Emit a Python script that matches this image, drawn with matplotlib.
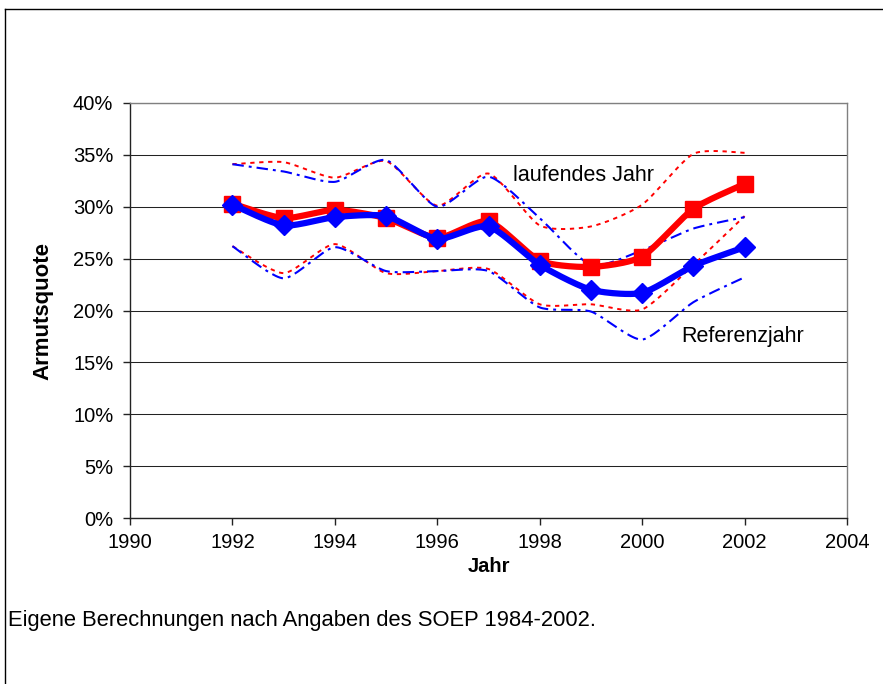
import numpy as np
import matplotlib
matplotlib.use("Agg")
import matplotlib.pyplot as plt
from matplotlib.lines import Line2D
from matplotlib.ticker import FuncFormatter

plt.rcParams['font.family'] = ['Liberation Sans', 'DejaVu Sans']

# ---- data (values in percent) ----
years = [1992, 1993, 1994, 1995, 1996, 1997, 1998, 1999, 2000, 2001, 2002]
laufend = [30.3, 28.9, 29.7, 28.9, 27.0, 28.6, 24.8, 24.2, 25.2, 29.8, 32.2]
laufend_upper = [34.1, 34.3, 32.8, 34.4, 30.1, 33.2, 28.2, 28.1, 30.2, 35.1, 35.2]
laufend_lower = [26.2, 23.6, 26.4, 23.6, 23.8, 24.0, 20.6, 20.6, 20.1, 24.4, 29.1]
referenz = [30.2, 28.2, 29.0, 29.1, 26.9, 28.1, 24.4, 22.0, 21.7, 24.3, 26.1]
referenz_upper = [34.1, 33.4, 32.4, 34.5, 30.0, 32.9, 28.9, 24.4, 25.8, 27.9, 29.0]
referenz_lower = [26.2, 23.1, 26.1, 23.8, 23.8, 23.8, 20.3, 19.9, 17.2, 20.8, 23.2]

x_ticks = [1990, 1992, 1994, 1996, 1998, 2000, 2002, 2004]
y_ticks = [0, 5, 10, 15, 20, 25, 30, 35, 40]

label_laufend = "laufendes Jahr"
label_referenz = "Referenzjahr"
x_title = "Jahr"
y_title = "Armutsquote"
footer = "Eigene Berechnungen nach Angaben des SOEP 1984-2002."


def smooth(x, y, n=24, k=9.0):
    """Excel-like smoothed line (Bezier through the points)."""
    P = np.column_stack([np.asarray(x, float), np.asarray(y, float)])
    out = []
    for i in range(len(P) - 1):
        p0 = P[i - 1] if i > 0 else P[i]
        p1 = P[i]
        p2 = P[i + 1]
        p3 = P[i + 2] if i + 2 < len(P) else P[i + 1]
        c1 = p1 + (p2 - p0) / k
        c2 = p2 - (p3 - p1) / k
        t = np.linspace(0, 1, n)[:, None]
        seg = ((1 - t) ** 3) * p1 + 3 * ((1 - t) ** 2) * t * c1 + 3 * (1 - t) * t ** 2 * c2 + t ** 3 * p2
        if i > 0:
            seg = seg[1:]
        out.append(seg)
    out = np.vstack(out)
    return out[:, 0], out[:, 1]


W, H = 883, 684
fig = plt.figure(figsize=(W / 100, H / 100), dpi=100)
fig.patch.set_facecolor('white')

L, R, T, B = 130, 847, 103, 518
ax = fig.add_axes([L / W, 1 - B / H, (R - L) / W, (B - T) / H])
ax.set_xlim(1990, 2004)
ax.set_ylim(0, 40)

ax.set_yticks(y_ticks)
ax.set_xticks(x_ticks)
ax.yaxis.grid(True, color='#222222', linewidth=0.75)
ax.set_axisbelow(True)

for s in ['top', 'right']:
    ax.spines[s].set_color('#808080')
    ax.spines[s].set_linewidth(1.0)
for s in ['left', 'bottom']:
    ax.spines[s].set_color('#222222')
    ax.spines[s].set_linewidth(1.0)

ax.yaxis.set_major_formatter(FuncFormatter(lambda v, p: f"{int(v)}%"))
ax.tick_params(axis='both', direction='out', length=5, width=1, color='#222222',
               labelsize=14.5, labelcolor='black')
ax.tick_params(axis='y', pad=7)
ax.tick_params(axis='x', pad=6)

red = '#ff0000'
blue = '#0000ff'

# confidence bands
xs, ys = smooth(years, laufend_upper)
ax.plot(xs, ys, color=red, lw=1.4, linestyle=(0, (2.2, 2.4)))
xs, ys = smooth(years, laufend_lower)
ax.plot(xs, ys, color=red, lw=1.4, linestyle=(0, (2.2, 2.4)))
xs, ys = smooth(years, referenz_upper)
ax.plot(xs, ys, color=blue, lw=1.5, linestyle=(0, (5.5, 2.4, 1.4, 2.4)))
xs, ys = smooth(years, referenz_lower)
ax.plot(xs, ys, color=blue, lw=1.5, linestyle=(0, (5.5, 2.4, 1.4, 2.4)))

# main lines
xs, ys = smooth(years, laufend)
ax.plot(xs, ys, color=red, lw=4.5, solid_capstyle='round')
ax.plot(years, laufend, linestyle='none', marker='s', markersize=11.5, color=red)
xs, ys = smooth(years, referenz)
ax.plot(xs, ys, color=blue, lw=4.5, solid_capstyle='round')
ax.plot(years, referenz, linestyle='none', marker='D', markersize=10.5, color=blue)


def fx(x):
    return x / W


def fy(y):
    return 1 - y / H


fig.text(fx(513), fy(181), label_laufend, fontsize=15.5, ha='left', va='baseline')
fig.text(fx(681), fy(342), label_referenz, fontsize=15.5, ha='left', va='baseline')
fig.text(fx(488.5), fy(572), x_title, fontsize=14.5, fontweight='bold', ha='center', va='baseline')
fig.text(fx(43), fy(311), y_title, fontsize=16, fontweight='bold', rotation=90,
         ha='center', va='center')
fig.text(fx(8), fy(626), footer, fontsize=15.8, ha='left', va='baseline')

# outer chart border
fig.add_artist(Line2D([fx(4.5), fx(883)], [fy(8.5), fy(8.5)], color='black', lw=1.0))
fig.add_artist(Line2D([fx(4.5), fx(4.5)], [fy(8.5), fy(684)], color='black', lw=1.0))

fig.savefig('out.png', dpi=100)
